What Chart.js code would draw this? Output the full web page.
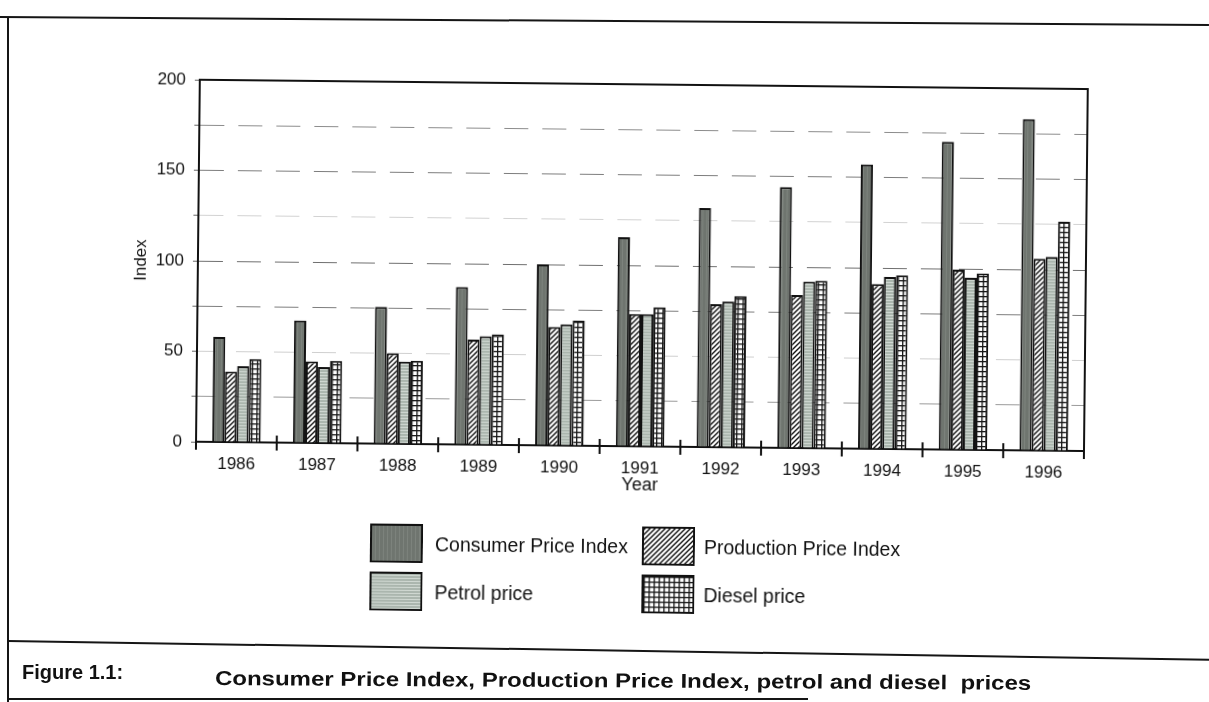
<!DOCTYPE html>
<html>
<head>
<meta charset="utf-8">
<script src="https://cdn.jsdelivr.net/npm/chart.js@4.4.1/dist/chart.umd.min.js"></script>
<style>
  body { margin: 0; background: #fff; width: 1209px; height: 702px; overflow: hidden; position: relative;
         font-family: "Liberation Sans", Arial, sans-serif; color: #111; }
  #page { position: absolute; left: 0; top: 0; width: 1209px; height: 702px;
          transform: rotate(0.6deg); transform-origin: 604px 351px; }
  #chart { position: absolute; left: 0; top: 0; }
  .legend-box { position: absolute; }
  .legend-text { position: absolute; font-size: 19.5px; line-height: 22px; white-space: nowrap; }
  .rule { position: absolute; background: #151515; }
  .caption { position: absolute; font-weight: bold; font-size: 20px; line-height: 24px; white-space: pre; }
</style>
</head>
<body>
<div class="rule" style="left:0; top:16px; width:1209px; height:2px; transform:rotate(0.38deg); transform-origin:0 0;"></div>
<div class="rule" style="left:7px; top:17px; width:2px; height:685px;"></div>
<div class="rule" style="left:8px; top:640px; width:1205px; height:2px; transform:rotate(0.9deg); transform-origin:0 0;"></div>
<div class="rule" style="left:8px; top:698px; width:800px; height:2px;"></div>

<div id="page">
  <canvas id="chart" width="1209" height="702"></canvas>
  <div id="legend"></div>
</div>

<div class="caption" style="left:22px; top:660px;">Figure 1.1:</div>
<div class="caption" style="left:215px; top:666px; transform:scaleX(1.2) rotate(0.4deg); transform-origin:0 50%;">Consumer Price Index, Production Price Index, petrol and diesel  prices</div>

<script>
const years = ['1986', '1987', '1988', '1989', '1990', '1991', '1992', '1993', '1994', '1995', '1996'];
const consumerPrice = [58, 67.5, 75.5, 87, 100, 115.5, 132, 144, 157, 170, 183];
const productionPrice = [39, 45, 50, 58, 65.5, 73, 79, 84.5, 91, 99.5, 106];
const petrolPrice = [42, 42, 45.5, 60, 67, 73, 80.5, 92, 95, 95, 107];
const dieselPrice = [46, 45.5, 46, 61, 69, 77, 83.5, 92.5, 96, 97.5, 126.5];
const yTicks = [0, 50, 100, 150, 200];

Chart.defaults.font.family = '"Liberation Sans", Arial, sans-serif';
Chart.defaults.color = '#111';

// little tiles used as fill patterns
function tile(size, draw) {
    const c = document.createElement('canvas');
    c.width = size;
    c.height = size;
    draw(c.getContext('2d'), size);
    return c;
}

const tiles = {
    cpi: tile(4, (g, s) => {
        g.fillStyle = '#6f756f'; g.fillRect(0, 0, s, s);
        g.fillStyle = '#7d837d'; g.fillRect(1, 0, 1, s);
    }),
    ppi: tile(5, (g, s) => {
        g.fillStyle = '#fff'; g.fillRect(0, 0, s, s);
        g.strokeStyle = '#111'; g.lineWidth = 1.4;
        g.beginPath();
        g.moveTo(-1, s + 1); g.lineTo(s + 1, -1);
        g.moveTo(-1, 1); g.lineTo(1, -1);
        g.moveTo(s - 1, s + 1); g.lineTo(s + 1, s - 1);
        g.stroke();
    }),
    petrol: tile(3, (g, s) => {
        g.fillStyle = '#abb6ae'; g.fillRect(0, 0, s, s);
        g.fillStyle = '#d0d8d2'; g.fillRect(0, 0, s, 1);
    }),
    diesel: tile(5, (g, s) => {
        g.fillStyle = '#fff'; g.fillRect(0, 0, s, s);
        g.fillStyle = '#151515';
        g.fillRect(2, 0, 1.3, s);
        g.fillRect(0, 2, s, 1.3);
    })
};

const canvas = document.getElementById('chart');
const ctx = canvas.getContext('2d');

const gridColors = { 25: '#9a9a9a', 50: '#cfcfcf', 75: '#7d7d7d', 100: '#6f6f6f', 125: '#d2d2d2', 150: '#7d7d7d', 175: '#8c8c8c' };

// box on top/right of the plot + ticks crossing the x axis at category borders
const frame = {
    id: 'frame',
    afterDatasetsDraw(chart) {
        const { ctx, chartArea: a } = chart;
        const x = chart.scales.x;
        ctx.save();
        ctx.strokeStyle = '#111';
        ctx.lineWidth = 2;
        ctx.beginPath();
        ctx.moveTo(a.left, a.top);
        ctx.lineTo(a.right, a.top);
        ctx.lineTo(a.right, a.bottom);
        const step = x.getPixelForValue(1) - x.getPixelForValue(0);
        for (let i = 0; i <= years.length; i++) {
            const px = x.getPixelForValue(i) - step / 2;
            ctx.moveTo(px, a.bottom - 7);
            ctx.lineTo(px, a.bottom + 8);
        }
        ctx.stroke();
        ctx.restore();
    }
};

const chart = new Chart(ctx, {
    type: 'bar',
    data: {
        labels: years,
        datasets: [
            { label: 'Consumer Price Index', data: consumerPrice, backgroundColor: ctx.createPattern(tiles.cpi, 'repeat'), key: 'cpi' },
            { label: 'Production Price Index', data: productionPrice, backgroundColor: ctx.createPattern(tiles.ppi, 'repeat'), key: 'ppi' },
            { label: 'Petrol price', data: petrolPrice, backgroundColor: ctx.createPattern(tiles.petrol, 'repeat'), key: 'petrol' },
            { label: 'Diesel price', data: dieselPrice, backgroundColor: ctx.createPattern(tiles.diesel, 'repeat'), key: 'diesel' }
        ]
    },
    options: {
        responsive: false,
        animation: false,
        devicePixelRatio: 1,
        layout: { padding: { left: 126, top: 84, right: 124, bottom: 206 } },
        datasets: {
            bar: { borderColor: '#111', borderWidth: 2, categoryPercentage: 0.6, barPercentage: 1 }
        },
        plugins: { legend: { display: false }, tooltip: { enabled: false } },
        scales: {
            x: {
                grid: { display: false },
                border: { display: true, color: '#111', width: 2 },
                ticks: { padding: 4, font: { size: 17 }, color: '#111' },
                title: { display: true, text: 'Year', font: { size: 18 }, color: '#111', padding: { top: 0, bottom: 0 } },
                afterFit(scale) { scale.height = 50; }
            },
            y: {
                min: 0,
                max: 200,
                ticks: {
                    stepSize: 25,
                    padding: 9,
                    font: { size: 17 },
                    color: '#111',
                    callback: v => yTicks.includes(v) ? v : ''
                },
                grid: {
                    color: c => gridColors[c.tick.value] || 'rgba(0,0,0,0)',
                    lineWidth: 1,
                    tickLength: 5,
                    tickColor: '#666'
                },
                border: { display: true, color: '#111', width: 2, dash: [24, 14] },
                title: { display: true, text: 'Index', font: { size: 17 }, color: '#111', padding: { top: 4, bottom: 0 } },
                afterFit(scale) { scale.width = 71; }
            }
        }
    },
    plugins: [frame]
});

// legend laid out as 2 x 2 grid below the plot
const legendBoxLeft = [372, 644];
const legendTextLeft = [437, 706];
const legendRowTop = [526, 574];
const legend = document.getElementById('legend');
chart.data.datasets.forEach((ds, i) => {
    const col = i % 2, row = Math.floor(i / 2);
    const box = document.createElement('canvas');
    box.width = 53;
    box.height = 39;
    box.className = 'legend-box';
    box.style.left = legendBoxLeft[col] + 'px';
    box.style.top = legendRowTop[row] + 'px';
    const g = box.getContext('2d');
    g.fillStyle = g.createPattern(tiles[ds.key], 'repeat');
    g.fillRect(0, 0, 53, 39);
    g.strokeStyle = '#111';
    g.lineWidth = 2;
    g.strokeRect(1, 1, 51, 37);
    legend.appendChild(box);

    const text = document.createElement('div');
    text.className = 'legend-text';
    text.textContent = ds.label;
    text.style.left = legendTextLeft[col] + 'px';
    text.style.top = (legendRowTop[row] + 9) + 'px';
    legend.appendChild(text);
});
</script>
</body>
</html>
